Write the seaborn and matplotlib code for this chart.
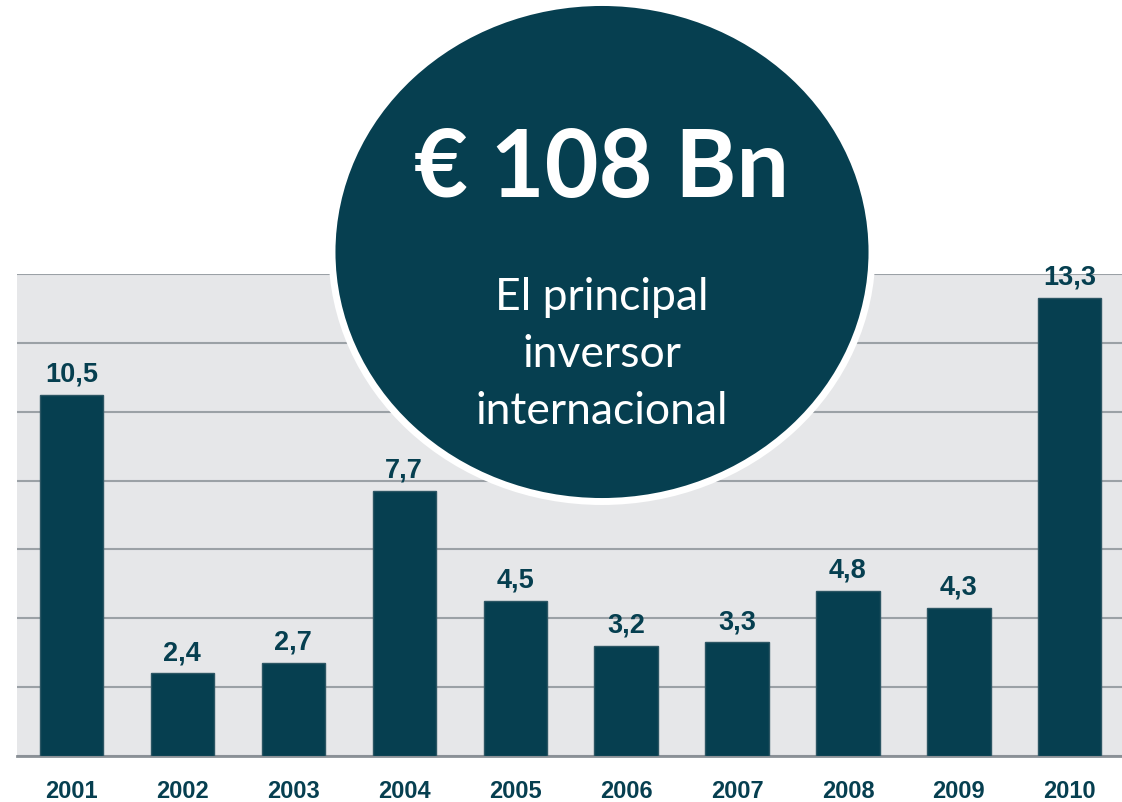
import matplotlib
matplotlib.use("Agg")
import pandas as pd
import seaborn as sns
import matplotlib.pyplot as plt
from matplotlib.patches import Ellipse

# Data
years = ["2001", "2002", "2003", "2004", "2005", "2006", "2007", "2008", "2009", "2010"]
values = [10.5, 2.4, 2.7, 7.7, 4.5, 3.2, 3.3, 4.8, 4.3, 13.3]
headline = "€ 108 Bn"
subtitle = ["El principal", "inversor", "internacional"]

df = pd.DataFrame({"year": years, "value": values})

TEAL = "#063f50"
BG = "#e6e7e9"
GRID = "#9ba1a6"

sns.set_theme(style="white")
plt.rcParams["font.family"] = ["Liberation Sans", "DejaVu Sans"]

W, H = 1122, 803
fig = plt.figure(figsize=(W / 100, H / 100), dpi=100)
ax = fig.add_axes([17 / W, (H - 757) / H, (W - 17) / W, (757 - 275) / H])
ax.set_facecolor(BG)

sns.barplot(data=df, x="year", y="value", color=TEAL, width=0.57,
            edgecolor="#2c5664", linewidth=1, saturation=1, ax=ax, zorder=3)

ax.set_ylim(0, 14)
ax.set_xlim(-0.49, 9.47)
ax.set_yticks(range(0, 15, 2))
ax.yaxis.grid(True, color=GRID, linewidth=1.5, zorder=0)
ax.set_axisbelow(True)
ax.set_yticklabels([])
ax.tick_params(axis="y", length=0)
ax.tick_params(axis="x", length=0, pad=16.5)
for lbl in ax.get_xticklabels():
    lbl.set_fontsize(17)
    lbl.set_fontweight("bold")
    lbl.set_color(TEAL)
ax.set_xlabel("")
ax.set_ylabel("")
for s in ["top", "left", "right"]:
    ax.spines[s].set_visible(False)
ax.spines["bottom"].set_color("#8a9096")
ax.spines["bottom"].set_linewidth(2)

labels = [f"{v:.1f}".replace(".", ",") for v in values]
ax.bar_label(ax.containers[0], labels=labels, padding=6, fontsize=19.5,
             fontweight="bold", color=TEAL)

# Highlight circle over the chart
circle = Ellipse((602 / W, (H - 253) / H), 540 / W, 499 / H,
                 transform=fig.transFigure, facecolor=TEAL,
                 edgecolor="white", linewidth=5, zorder=10)
fig.add_artist(circle)

fig.text(602 / W, (H - 170) / H, headline, ha="center", va="center",
         fontsize=67, fontweight="bold", color="white",
         family=["Lato", "DejaVu Sans"], zorder=11)
for i, line in enumerate(subtitle):
    fig.text(602 / W, (H - 298 - 57 * i) / H, line, ha="center", va="center",
             fontsize=32, fontweight="normal", color="white",
             family=["Lato", "DejaVu Sans"], zorder=11)

fig.savefig("out.png", dpi=100, facecolor="white")
